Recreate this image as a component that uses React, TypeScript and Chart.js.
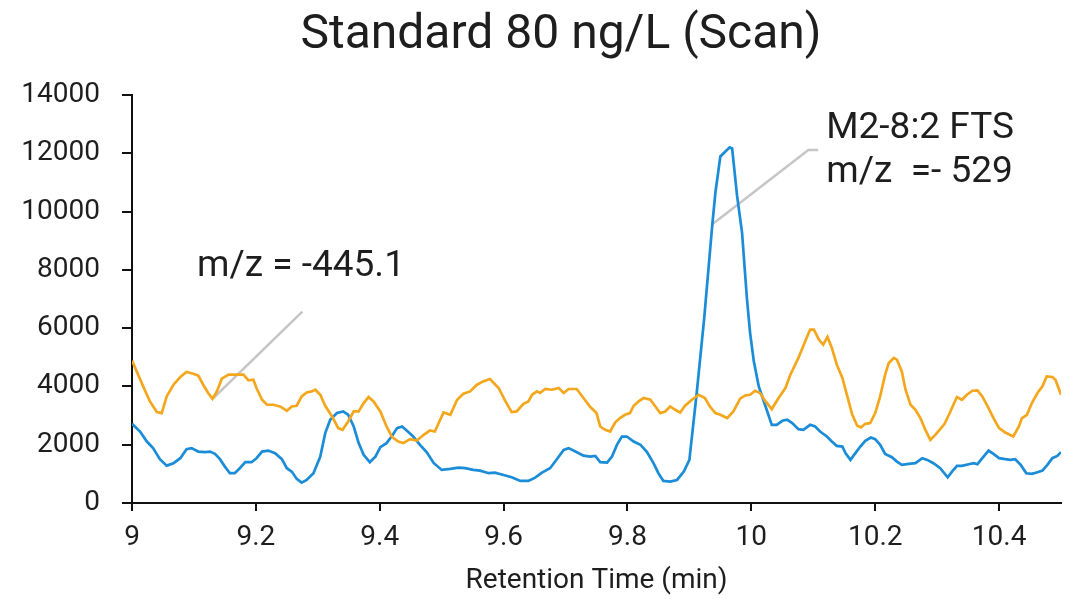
import React, { useEffect, useRef } from "react";
import Chart from "chart.js/auto";

// ---------- data ----------
const orangeTime = [9.0, 9.010, 9.018, 9.029, 9.040, 9.048, 9.056, 9.067, 9.078, 9.088,
  9.099, 9.107, 9.115, 9.123, 9.130, 9.137, 9.145, 9.156, 9.166, 9.180,
  9.188, 9.196, 9.201, 9.210, 9.218, 9.228, 9.239, 9.250, 9.258, 9.266,
  9.274, 9.282, 9.290, 9.296, 9.304, 9.312, 9.323, 9.333, 9.340, 9.349,
  9.358, 9.366, 9.374, 9.382, 9.390, 9.401, 9.411, 9.420, 9.430, 9.438,
  9.449, 9.460, 9.471, 9.481, 9.489, 9.503, 9.514, 9.525, 9.535, 9.546,
  9.557, 9.567, 9.578, 9.592, 9.603, 9.613, 9.621, 9.632, 9.640, 9.646,
  9.654, 9.659, 9.667, 9.678, 9.689, 9.697, 9.705, 9.718, 9.729, 9.740,
  9.750, 9.756, 9.764, 9.772, 9.780, 9.788, 9.796, 9.804, 9.810, 9.818,
  9.826, 9.837, 9.845, 9.853, 9.861, 9.869, 9.877, 9.885, 9.893, 9.904,
  9.915, 9.925, 9.933, 9.942, 9.950, 9.961, 9.971, 9.982, 9.990, 9.998,
  10.006, 10.014, 10.023, 10.033, 10.044, 10.055, 10.063, 10.076, 10.087, 10.095,
  10.101, 10.109, 10.116, 10.123, 10.130, 10.138, 10.147, 10.155, 10.163, 10.171,
  10.177, 10.184, 10.192, 10.200, 10.208, 10.216, 10.222, 10.230, 10.235, 10.243,
  10.249, 10.257, 10.265, 10.273, 10.281, 10.289, 10.297, 10.305, 10.312, 10.319,
  10.327, 10.332, 10.340, 10.348, 10.357, 10.365, 10.373, 10.383, 10.391, 10.400,
  10.410, 10.423, 10.432, 10.437, 10.445, 10.453, 10.462, 10.470, 10.477, 10.486,
  10.491, 10.500];

const orangeIntensity = [4885, 4403, 4001, 3485, 3120, 3086, 3657, 4059, 4324, 4496,
  4438, 4369, 4059, 3774, 3578, 3829, 4266, 4403, 4403, 4403,
  4207, 4231, 3946, 3543, 3371, 3371, 3313, 3165, 3313, 3337,
  3657, 3794, 3829, 3887, 3715, 3337, 2969, 2570, 2511, 2797,
  3141, 3141, 3430, 3636, 3485, 3141, 2625, 2260, 2109, 2054,
  2191, 2143, 2339, 2487, 2453, 3106, 3027, 3543, 3750, 3829,
  4059, 4173, 4255, 3946, 3485, 3120, 3141, 3406, 3485, 3715,
  3829, 3774, 3911, 3887, 3946, 3774, 3911, 3911, 3602, 3292,
  3086, 2625, 2511, 2453, 2762, 2914, 3027, 3086, 3337, 3485,
  3602, 3543, 3313, 3086, 3141, 3313, 3199, 3106, 3337, 3543,
  3715, 3602, 3313, 3086, 3027, 2914, 3141, 3578, 3691, 3715,
  3853, 3774, 3485, 3223, 3602, 3946, 4403, 4978, 5549, 5951,
  5951, 5607, 5435, 5700, 5322, 4747, 4290, 3657, 3027, 2649,
  2590, 2718, 2742, 3086, 3657, 4403, 4806, 4978, 4919, 4517,
  3887, 3371, 3199, 2914, 2511, 2167, 2339, 2535, 2718, 3027,
  3406, 3636, 3543, 3715, 3853, 3863, 3657, 3258, 2914, 2570,
  2418, 2281, 2625, 2914, 3027, 3430, 3774, 4001, 4345, 4324,
  4231, 3715];

const blueTime = [9.0, 9.013, 9.024, 9.034, 9.045, 9.056, 9.067, 9.078, 9.088, 9.096,
  9.107, 9.118, 9.126, 9.134, 9.142, 9.150, 9.158, 9.166, 9.174, 9.183,
  9.193, 9.201, 9.210, 9.220, 9.231, 9.242, 9.250, 9.258, 9.266, 9.274,
  9.282, 9.293, 9.304, 9.312, 9.320, 9.331, 9.341, 9.349, 9.358, 9.366,
  9.374, 9.384, 9.393, 9.401, 9.411, 9.420, 9.428, 9.436, 9.444, 9.454,
  9.465, 9.476, 9.487, 9.500, 9.514, 9.527, 9.538, 9.551, 9.562, 9.576,
  9.586, 9.600, 9.613, 9.627, 9.640, 9.651, 9.662, 9.675, 9.686, 9.697,
  9.705, 9.716, 9.729, 9.740, 9.748, 9.756, 9.767, 9.775, 9.783, 9.791,
  9.799, 9.810, 9.821, 9.831, 9.842, 9.850, 9.858, 9.869, 9.880, 9.891,
  9.900, 9.912, 9.924, 9.937, 9.942, 9.950, 9.965, 9.969, 9.977, 9.985,
  9.993, 9.998, 10.004, 10.012, 10.023, 10.033, 10.041, 10.050, 10.058, 10.066,
  10.076, 10.084, 10.095, 10.103, 10.111, 10.122, 10.130, 10.138, 10.147, 10.152,
  10.160, 10.168, 10.176, 10.184, 10.193, 10.200, 10.208, 10.216, 10.227, 10.235,
  10.243, 10.254, 10.265, 10.276, 10.284, 10.294, 10.305, 10.317, 10.324, 10.332,
  10.340, 10.351, 10.359, 10.365, 10.373, 10.383, 10.391, 10.400, 10.410, 10.418,
  10.426, 10.435, 10.444, 10.453, 10.462, 10.470, 10.478, 10.486, 10.494, 10.500];

const blueIntensity = [2718, 2453, 2109, 1882, 1503, 1283, 1366, 1538, 1847, 1882,
  1765, 1744, 1765, 1686, 1503, 1249, 1022, 1022, 1194, 1400,
  1400, 1538, 1765, 1799, 1710, 1503, 1194, 1077, 826, 698,
  791, 1022, 1593, 2398, 2855, 3086, 3141, 3027, 2625, 2054,
  1651, 1400, 1593, 1916, 2054, 2305, 2570, 2625, 2477, 2281,
  1995, 1737, 1376, 1135, 1170, 1214, 1194, 1135, 1111, 1022,
  1042, 963, 884, 757, 757, 870, 1042, 1194, 1503, 1823,
  1882, 1765, 1627, 1593, 1617, 1400, 1386, 1593, 1995, 2281,
  2281, 2109, 1995, 1765, 1366, 1022, 757, 733, 791, 1077,
  1479, 3818, 6364, 9563, 10654, 11892, 12202, 12167, 10537, 9278,
  6983, 5838, 4861, 4001, 3313, 2683, 2683, 2821, 2855, 2742,
  2535, 2511, 2683, 2625, 2453, 2281, 2109, 1961, 1937, 1710,
  1479, 1710, 1937, 2133, 2246, 2191, 1995, 1686, 1572, 1421,
  1307, 1342, 1366, 1538, 1479, 1366, 1194, 884, 1077, 1273,
  1273, 1331, 1366, 1331, 1538, 1799, 1686, 1538, 1503, 1479,
  1503, 1307, 1022, 998, 1056, 1111, 1307, 1538, 1617, 1744];

const xTickValues = [9, 9.2, 9.4, 9.6, 9.8, 10, 10.2, 10.4];
const yTickValues = [0, 2000, 4000, 6000, 8000, 10000, 12000, 14000];

const chartTitle = "Standard 80 ng/L (Scan)";
const xAxisTitle = "Retention Time (min)";

// annotations (data coordinates)
const note445Lines = ["m/z = -445.1"];
const note445Anchor = { x: 9.105, y: 8118 };
const note445LeaderX = [9.132, 9.275];
const note445LeaderY = [3612, 6570];

const note529Lines = ["M2-8:2 FTS", "m/z  =- 529"];
const note529Anchor = { x: 10.121, y: 12831 };
const note529LineStepY = -1513;
const note529LeaderX = [9.937, 10.092, 10.108];
const note529LeaderY = [9563, 12109, 12109];

// ---------- styles ----------
const FONT = "Roboto, 'Noto Sans', sans-serif";
const TEXT = "#1e1e1e";
const ORANGE = "#F4A71C";
const BLUE = "#1A8CD8";
const LEADER = "#c6c6c6";

const annotationPlugin = {
  id: "annotations",
  beforeDatasetsDraw(chart: any) {
    const { ctx, scales } = chart;
    const x = scales.x, y = scales.y;
    ctx.save();
    ctx.strokeStyle = LEADER;
    ctx.lineWidth = 2.5;
    const drawLeader = (xs: number[], ys: number[]) => {
      ctx.beginPath();
      xs.forEach((v, i) => {
        const px = x.getPixelForValue(v);
        const py = y.getPixelForValue(ys[i]);
        if (i === 0) ctx.moveTo(px, py);
        else ctx.lineTo(px, py);
      });
      ctx.stroke();
    };
    drawLeader(note445LeaderX, note445LeaderY);
    drawLeader(note529LeaderX, note529LeaderY);
    ctx.restore();
  },
  afterDraw(chart: any) {
    const { ctx, scales } = chart;
    const x = scales.x, y = scales.y;
    ctx.save();
    ctx.fillStyle = TEXT;
    ctx.textAlign = "left";
    ctx.textBaseline = "middle";
    ctx.font = `37px ${FONT}`;
    note445Lines.forEach((t) => {
      ctx.fillText(t, x.getPixelForValue(note445Anchor.x), y.getPixelForValue(note445Anchor.y));
    });
    note529Lines.forEach((t, i) => {
      ctx.fillText(
        t,
        x.getPixelForValue(note529Anchor.x),
        y.getPixelForValue(note529Anchor.y + i * note529LineStepY)
      );
    });
    // chart title
    ctx.textAlign = "center";
    ctx.font = `48px ${FONT}`;
    ctx.fillText(chartTitle, 561, 36);
    ctx.restore();
  },
};

export default function App() {
  const ref = useRef<HTMLCanvasElement | null>(null);

  useEffect(() => {
    if (!ref.current) return;
    const chart = new Chart(ref.current, {
      type: "line",
      data: {
        datasets: [
          {
            label: "m/z -445.1",
            data: orangeTime.map((t, i) => ({ x: t, y: orangeIntensity[i] })),
            borderColor: ORANGE,
            borderWidth: 2.7,
            pointRadius: 0,
            tension: 0,
            fill: false,
          },
          {
            label: "m/z -529",
            data: blueTime.map((t, i) => ({ x: t, y: blueIntensity[i] })),
            borderColor: BLUE,
            borderWidth: 2.7,
            pointRadius: 0,
            tension: 0,
            fill: false,
          },
        ],
      },
      options: {
        responsive: false,
        animation: false,
        layout: { padding: { top: 95, right: 10, left: 0, bottom: 0 } },
        plugins: {
          legend: { display: false },
          title: { display: false },
          tooltip: { enabled: false },
        },
        scales: {
          x: {
            type: "linear",
            min: 9,
            max: 10.5,
            afterFit: (s: any) => { s.height = 96; },
            afterBuildTicks: (s: any) => { s.ticks = xTickValues.map((v) => ({ value: v })); },
            grid: { drawOnChartArea: false, drawTicks: true, tickLength: 8, color: "#111", lineWidth: 2 },
            border: { display: true, color: "#111", width: 2 },
            ticks: {
              color: TEXT,
              font: { family: FONT, size: 28 },
              padding: 10,
              maxRotation: 0,
              autoSkip: false,
              callback: (v: any) => String(Math.round(Number(v) * 10) / 10),
            },
            title: {
              display: true,
              text: xAxisTitle,
              color: TEXT,
              font: { family: FONT, size: 28 },
              padding: { top: 0, bottom: 1 },
            },
          },
          y: {
            min: 0,
            max: 14000,
            afterFit: (s: any) => { s.width = 132; },
            afterBuildTicks: (s: any) => { s.ticks = yTickValues.map((v) => ({ value: v })); },
            grid: { drawOnChartArea: false, drawTicks: true, tickLength: 10, color: "#111", lineWidth: 2 },
            border: { display: true, color: "#111", width: 2 },
            ticks: {
              color: TEXT,
              font: { family: FONT, size: 28 },
              padding: 22,
              autoSkip: false,
              callback: (v: any) => String(v),
            },
          },
        },
      },
      plugins: [annotationPlugin],
    });
    return () => chart.destroy();
  }, []);

  return (
    <div style={{ position: "fixed", left: 0, top: 0, width: 1071, height: 599, background: "#fff" }}>
      <canvas ref={ref} width={1071} height={599} style={{ display: "block" }} />
    </div>
  );
}
